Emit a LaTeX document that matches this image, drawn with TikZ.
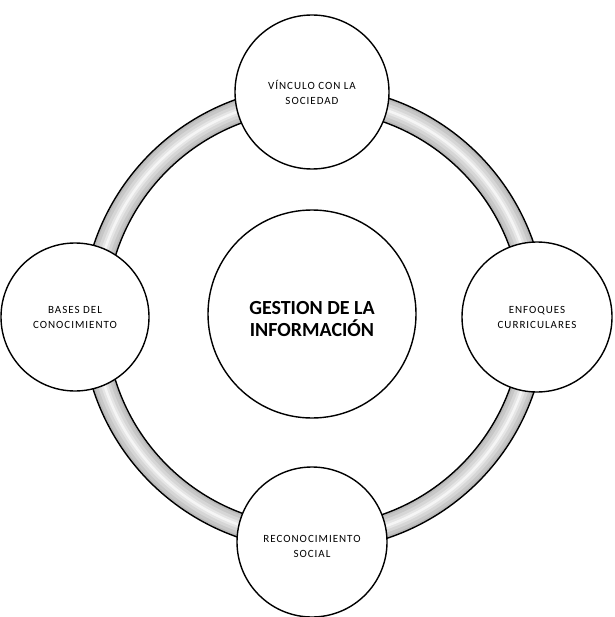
\documentclass[tikz,border=0pt]{standalone}
\usepackage{fontspec}
\setmainfont{Carlito}
\newfontfamily\smallcaps[LetterSpace=9]{Carlito}
\begin{document}
\begin{tikzpicture}[x=1pt,y=-1pt,
  bubble/.style={circle,draw=black,line width=1.4pt,fill=white,inner sep=0pt},
  captext/.style={align=center,font=\smallcaps\fontsize{11}{15}\selectfont},
  hubtext/.style={align=center,font=\bfseries\fontsize{20}{22}\selectfont}]
\useasboundingbox (0,0) rectangle (614,617);
\coordinate (hub) at (314,318);
% grey tube of the ring, lighter towards its middle
\foreach \w/\c in {24/gray!55,19/gray!44,13/gray!32,7/gray!20,2.5/gray!8}
  \draw[line width=\w pt,\c] (hub) circle (220pt);
\draw[line width=1.4pt] (hub) circle (232pt);
\draw[line width=1.4pt] (hub) circle (208pt);
% the five bubbles and their captions
\node[bubble,minimum size=208pt] (gest) at (312,314) {};
\node[hubtext] (gesttxt) at ([yshift=-5pt]gest.center) {GESTION DE LA\\INFORMACIÓN};
\node[bubble,minimum size=154pt] (vinc) at (312,92) {};
\node[captext] (vinctxt) at (vinc.center) {VÍNCULO CON LA\\SOCIEDAD};
\node[bubble,minimum size=148pt] (bases) at (75,317) {};
\node[captext] (basestxt) at (bases.center) {BASES DEL\\CONOCIMIENTO};
\node[bubble,minimum size=150pt] (enf) at (537,317) {};
\node[captext] (enftxt) at (enf.center) {ENFOQUES\\CURRICULARES};
\node[bubble,minimum size=150pt] (reco) at (312,542) {};
\node[captext] (recotxt) at ([yshift=-4pt]reco.center) {RECONOCIMIENTO\\SOCIAL};
\end{tikzpicture}
\end{document}
